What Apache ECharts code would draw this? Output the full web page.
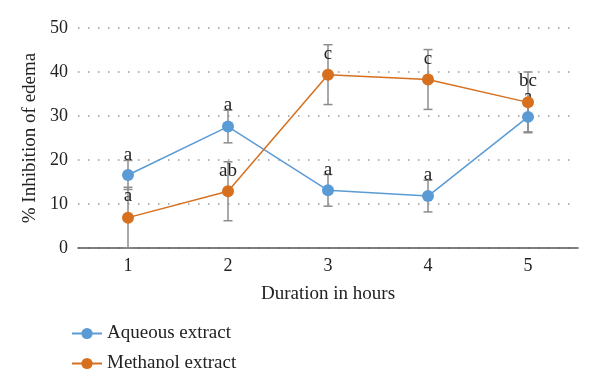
<!DOCTYPE html>
<html><head><meta charset="utf-8">
<script src="https://cdn.jsdelivr.net/npm/echarts@6/dist/echarts.min.js"></script>
<style>html,body{margin:0;padding:0;background:#fff}#c{width:600px;height:390px}</style>
</head><body><div id="c"></div>
<script>
var categories = ['1','2','3','4','5'];
var aqueous = [16.6, 27.6, 13.1, 11.8, 29.8];
var aqueousErr = [3.3, 3.7, 3.6, 3.6, 3.4];
var aqueousLabels = ['a','a','a','a','a'];
var methanol = [6.9, 12.9, 39.4, 38.3, 33.1];
var methanolErr = [6.9, 6.7, 6.8, 6.8, 6.9];
var methanolLabels = ['a','ab','c','c','bc'];
var yTicks = [0, 50, 10];

var FONT = 'Liberation Serif';
var BLUE = '#5B9BD5', ORANGE = '#D6701F', GREY = '#8C8C8C';

function errData(vals, errs) {
  return vals.map(function (v, i) { return [i, v, errs[i]]; });
}
function errRender(labels, labelOffset) {
  return function (params, api) {
    var x = api.value(0), v = api.value(1), e = api.value(2);
    var lbl = labels[params.dataIndex];
    var top = api.coord([x, v + e]);
    var bot = api.coord([x, Math.max(0, v - e)]);
    var hw = 4.5;
    var st = { stroke: GREY, lineWidth: 1.5 };
    return {
      type: 'group',
      children: [
        { type: 'line', shape: { x1: top[0], y1: top[1], x2: bot[0], y2: bot[1] }, style: st },
        { type: 'line', shape: { x1: top[0]-hw, y1: top[1], x2: top[0]+hw, y2: top[1] }, style: st },
        { type: 'line', shape: { x1: bot[0]-hw, y1: bot[1], x2: bot[0]+hw, y2: bot[1] }, style: st },
        { type: 'text', z2: 100, x: top[0], y: top[1] + labelOffset,
          style: { text: lbl, align: 'center', verticalAlign: 'middle',
          fill: '#222', fontSize: 19, fontFamily: FONT } }
      ]
    };
  };
}

var chart = echarts.init(document.getElementById('c'));
chart.setOption({
  animation: false,
  textStyle: { fontFamily: FONT },
  grid: { left: 78, right: 22, top: 28, bottom: 142 },
  legend: {
    orient: 'vertical', left: 66, top: 319, itemWidth: 30, itemHeight: 14, itemGap: 11,
    textStyle: { fontFamily: FONT, fontSize: 19, color: '#222' },
    data: ['Aqueous extract', 'Methanol extract']
  },
  xAxis: {
    type: 'category', data: categories, boundaryGap: true,
    name: 'Duration in hours', nameLocation: 'middle', nameGap: 37,
    nameTextStyle: { fontFamily: FONT, fontSize: 19, color: '#222' },
    axisLine: { lineStyle: { color: '#555', width: 1.5 } },
    axisTick: { show: false },
    axisLabel: { fontFamily: FONT, fontSize: 18, color: '#222', margin: 9 }
  },
  yAxis: {
    type: 'value', min: yTicks[0], max: yTicks[1], interval: yTicks[2],
    name: '% Inhibition of edema', nameLocation: 'middle', nameGap: 37,
    nameTextStyle: { fontFamily: FONT, fontSize: 19, color: '#222' },
    axisLine: { show: false }, axisTick: { show: false },
    axisLabel: { fontFamily: FONT, fontSize: 18, color: '#222', margin: 10 },
    splitLine: { lineStyle: { color: '#9a9a9a', width: 1.5, type: [1.5, 8.5] } }
  },
  series: [
    { name: 'Aqueous extract', type: 'line', data: aqueous, color: BLUE,
      symbol: 'circle', symbolSize: 12, lineStyle: { width: 1.5 }, z: 3 },
    { name: 'Methanol extract', type: 'line', data: methanol, color: ORANGE,
      symbol: 'circle', symbolSize: 12, lineStyle: { width: 1.5 }, z: 3 },
    { type: 'custom', name: 'aqErr', data: errData(aqueous, aqueousErr),
      renderItem: errRender(aqueousLabels, -5), z: 2, silent: true },
    { type: 'custom', name: 'meErr', data: errData(methanol, methanolErr),
      renderItem: errRender(methanolLabels, 9), z: 2, silent: true }
  ]
});
</script></body></html>
